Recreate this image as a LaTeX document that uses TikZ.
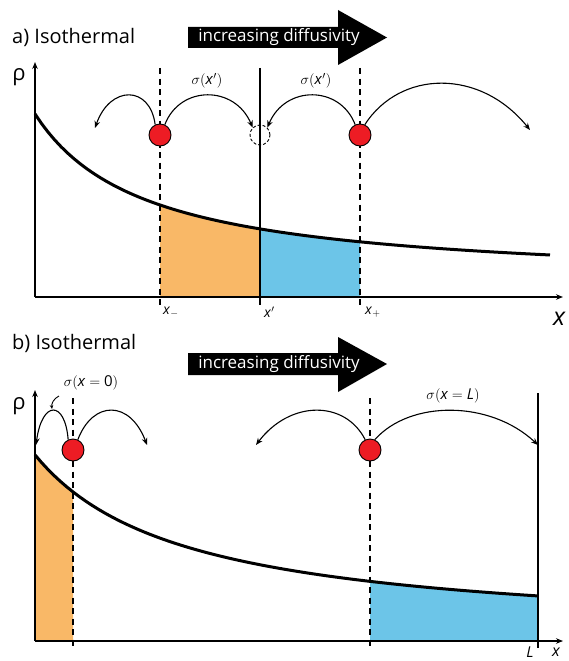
\documentclass[tikz,border=0pt]{standalone}
\usepackage{fontspec}
\setmainfont{Open Sans}
\usetikzlibrary{arrows.meta, calc}
\definecolor{orangefill}{HTML}{F9B867}
\definecolor{bluefill}{HTML}{6CC5E8}
\definecolor{dotred}{HTML}{ED1C24}

\begin{document}
\begin{tikzpicture}[
  x=1pt, y=-1pt,
  >={Stealth[length=7pt, width=5.5pt]},
  declare function={
    rhoa(\t)=297-188.17/((\t+75)*0.01)-11.9;
    rhob(\t)=641-274.56/((\t+115)*0.01)-3;
  },
  axis/.style={->, line width=1.8pt},
  profile/.style={line width=3pt},
  guide/.style={line width=1.3pt, dash pattern=on 6pt off 4.5pt},
  wall/.style={line width=1.5pt},
  hop/.style={->, line width=1.1pt},
  particle/.style={circle, draw, line width=0.9pt, fill=dotred,
    minimum size=22pt, inner sep=0pt},
  ghost/.style={circle, draw, densely dashed, line width=0.9pt,
    minimum size=20pt, inner sep=0pt},
  title/.style={font=\fontsize{20}{24}\selectfont, anchor=west, inner sep=0pt},
  banner/.style={font=\fontsize{17}{20}\selectfont, text=white, inner sep=0pt},
  ticklabel/.style={font=\fontsize{14}{16}\selectfont, anchor=west, inner sep=0pt},
  hoplabel/.style={font=\fontsize{15}{17}\selectfont, inner sep=1pt}
]

\useasboundingbox (0,0) rectangle (568,661);

% ── a) Isothermal ──
\node[title] (titlea) at (12,37) {a) Isothermal};
\fill (188,27) -- (338,27) -- (338,10) -- (387,37.5) -- (338,65) -- (338,48) -- (188,48) -- cycle;
\node[banner] (bannera) at (279,37.5) {increasing diffusivity};

% shaded areas either side of x'
\fill[orangefill] (160,297) -- plot[domain=160:260, samples=30] (\x, {rhoa(\x)}) -- (260,297) -- cycle;
\fill[bluefill] (260,297) -- plot[domain=260:360, samples=30] (\x, {rhoa(\x)}) -- (360,297) -- cycle;

% guides
\draw[guide] (160,68) -- (160,305);
\draw[guide] (360,68) -- (360,305);
\draw[wall] (260,68) -- (260,305);

% axes and density profile
\coordinate (origa) at (35,297);
\draw[axis] (origa) -- (35,62);
\draw[axis] (origa) -- (563,297);
\draw[profile] plot[domain=35:550, samples=80] (\x, {rhoa(\x)});
\node[font=\fontsize{22}{24}\selectfont] (rhoa) at (19,77) {ρ};
\node[font=\fontsize{25}{27}\selectfont\itshape] (xa) at (559,319) {x};
\node[ticklabel] (xminus) at (163,312) {\textit{x}$_{-}$};
\node[ticklabel] (xprime) at (264,312) {\textit{x}$'$};
\node[ticklabel] (xplus) at (365,312) {\textit{x}$_{+}$};

% particles and hops
\node[particle] (pleft) at (160,135) {};
\node[particle] (pright) at (360,135) {};
\node[ghost] (pghost) at (260,135) {};
\coordinate (landl) at (95,128);
\coordinate (landr) at (530,130);
\draw[hop] (pleft.115) .. controls (150,85) and (110,85) .. (landl);
\draw[hop] (pleft.65) .. controls (180,85) and (235,85) .. (pghost.north west);
\draw[hop] (pright.115) .. controls (340,85) and (285,85) .. (pghost.north east);
\draw[hop] (pright.65) .. controls (400,70) and (480,68) .. (landr);
\node[hoplabel] (siga) at (207,81) {$\sigma($\textit{x}$')$};
\node[hoplabel] (sigb) at (316,81) {$\sigma($\textit{x}$')$};

% ── b) Isothermal ──
\node[title] (titleb) at (12,343) {b) Isothermal};
\fill (188,353) -- (338,353) -- (338,337) -- (387,364) -- (338,392) -- (338,375) -- (188,375) -- cycle;
\node[banner] (bannerb) at (279,364) {increasing diffusivity};

% shaded areas at the two ends
\fill[orangefill] (35,641) -- plot[domain=35:73, samples=20] (\x, {rhob(\x)}) -- (73,641) -- cycle;
\fill[bluefill] (370,641) -- plot[domain=370:538, samples=30] (\x, {rhob(\x)}) -- (538,641) -- cycle;

% guides
\draw[guide] (73,398) -- (73,648);
\draw[guide] (370,398) -- (370,648);
\draw[wall] (538,393) -- (538,648);

% axes and density profile
\coordinate (origb) at (35,641);
\draw[axis] (origb) -- (35,390);
\draw[axis] (origb) -- (563,641);
\draw[profile] plot[domain=35:538, samples=80] (\x, {rhob(\x)});
\node[font=\fontsize{22}{24}\selectfont] (rhob) at (19,406) {ρ};
\node[font=\fontsize{16}{18}\selectfont\itshape, anchor=south, inner sep=0pt] (xb) at (556,657) {x};
\node[font=\fontsize{15}{17}\selectfont\itshape] (lend) at (530,652) {L};

% particles and hops
\node[particle] (pzero) at (73,450) {};
\node[particle] (pend) at (370,450) {};
\coordinate (landa) at (36,445);
\coordinate (landb) at (147,445);
\coordinate (landc) at (256,445);
\coordinate (landd) at (538,445);
\draw[hop] (pzero.115) .. controls (65,400) and (42,400) .. (landa);
\draw[hop] (pzero.65) .. controls (93,400) and (130,400) .. (landb);
\draw[hop] (pend.115) .. controls (345,400) and (290,400) .. (landc);
\draw[hop] (pend.65) .. controls (410,400) and (490,400) .. (landd);
\node[hoplabel] (sigzero) at (91,383) {$\sigma($\textit{x} $=$ 0$)$};
\node[hoplabel] (sigend) at (453,396) {$\sigma($\textit{x} $=$ \textit{L}$)$};
\coordinate (peakz) at (52,409);
\draw[->, line width=0.9pt, >={Stealth[length=4pt, width=3.5pt]}] (59,396) to[bend right=35] (peakz);

\end{tikzpicture}
\end{document}
